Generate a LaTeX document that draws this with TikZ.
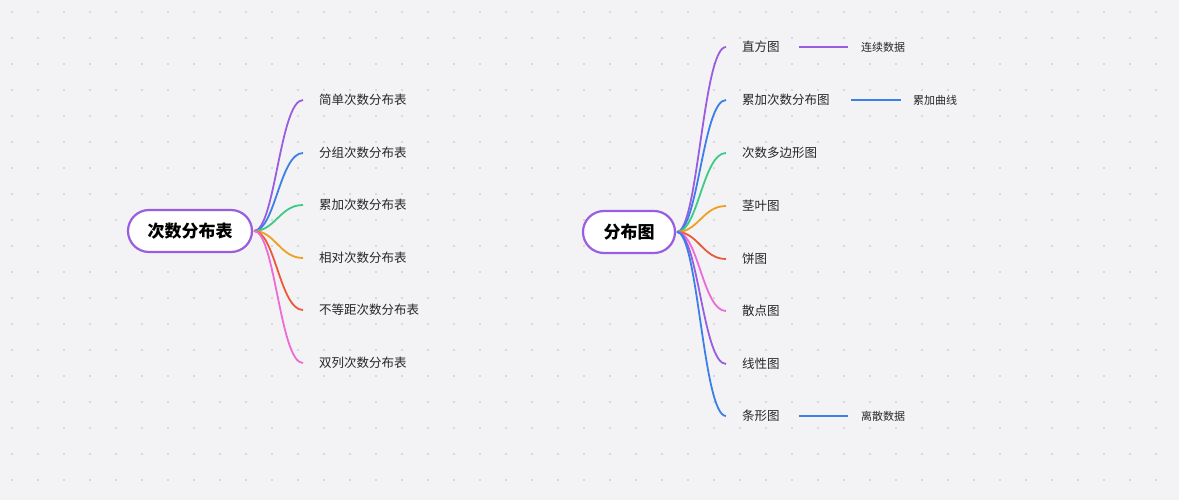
\documentclass[tikz,border=0pt]{standalone}
\usepackage{fontspec}
\setmainfont{Noto Sans CJK SC}
\definecolor{bg}{HTML}{F3F3F5}
\definecolor{cpur}{HTML}{9B5DE0}
\definecolor{cblu}{HTML}{3D7FE8}
\definecolor{cgrn}{HTML}{3CCB86}
\definecolor{cora}{HTML}{F0A020}
\definecolor{cred}{HTML}{EA5A3A}
\definecolor{cpnk}{HTML}{EE6AD6}
\begin{document}
\begin{tikzpicture}[x=1pt,y=-1pt,
  root/.style={draw=cpur,line width=2.2pt,rounded corners=21pt,fill=white,minimum height=42pt,font=\fontsize{17}{20}\selectfont\bfseries,inner sep=0pt},
  lbl/.style={anchor=west,font=\fontsize{12.5}{15}\selectfont,text=black!85,inner sep=0pt},
  sl/.style={anchor=west,font=\fontsize{11}{13}\selectfont,text=black!85,inner sep=0pt},
  br/.style={line width=1.8pt}]
\fill[bg] (0,0) rectangle (1179,500);
\useasboundingbox (0,0) rectangle (1179,500);
\foreach \i in {0,...,45} \foreach \j in {0,...,19}
  \fill[black!25] (\i*26+12,\j*26+12) circle (0.8pt);
% left
\node[root,minimum width=124pt] (L) at (190,231) {次数分布表};
\coordinate (lo) at (254,231);
\foreach \y/\c/\t [count=\k] in {100/cpur/简单次数分布表,153/cblu/分组次数分布表,205/cgrn/累加次数分布表,258/cora/相对次数分布表,310/cred/不等距次数分布表,363/cpnk/双列次数分布表}{
  \coordinate (le\k) at (303,\y);
  \draw[br,\c] (lo) .. controls (275,231) and (280,\y) .. (le\k);
  \node[lbl] (lt\k) at (319,\y) {\t};
}
% right
\node[root,minimum width=92pt] (R) at (629,232) {分布图};
\coordinate (ro) at (677,232);
\foreach \y/\c/\t [count=\k] in {47/cpur/直方图,100/cblu/累加次数分布图,153/cgrn/次数多边形图,206/cora/茎叶图,259/cred/饼图,311/cpnk/散点图,364/cpur/线性图,416/cblu/条形图}{
  \coordinate (re\k) at (726,\y);
  \draw[br,\c] (ro) .. controls (698,232) and (703,\y) .. (re\k);
  \node[lbl] (rt\k) at (742,\y) {\t};
}
\coordinate (a1) at (799,47); \coordinate (a2) at (848,47);
\draw[br,cpur] (a1) -- (a2);
\node[sl] (s1) at (861,47) {连续数据};
\coordinate (b1) at (851,100); \coordinate (b2) at (901,100);
\draw[br,cblu] (b1) -- (b2);
\node[sl] (s2) at (913,100) {累加曲线};
\coordinate (c1) at (799,416); \coordinate (c2) at (848,416);
\draw[br,cblu] (c1) -- (c2);
\node[sl] (s3) at (861,416) {离散数据};
\end{tikzpicture}
\end{document}
